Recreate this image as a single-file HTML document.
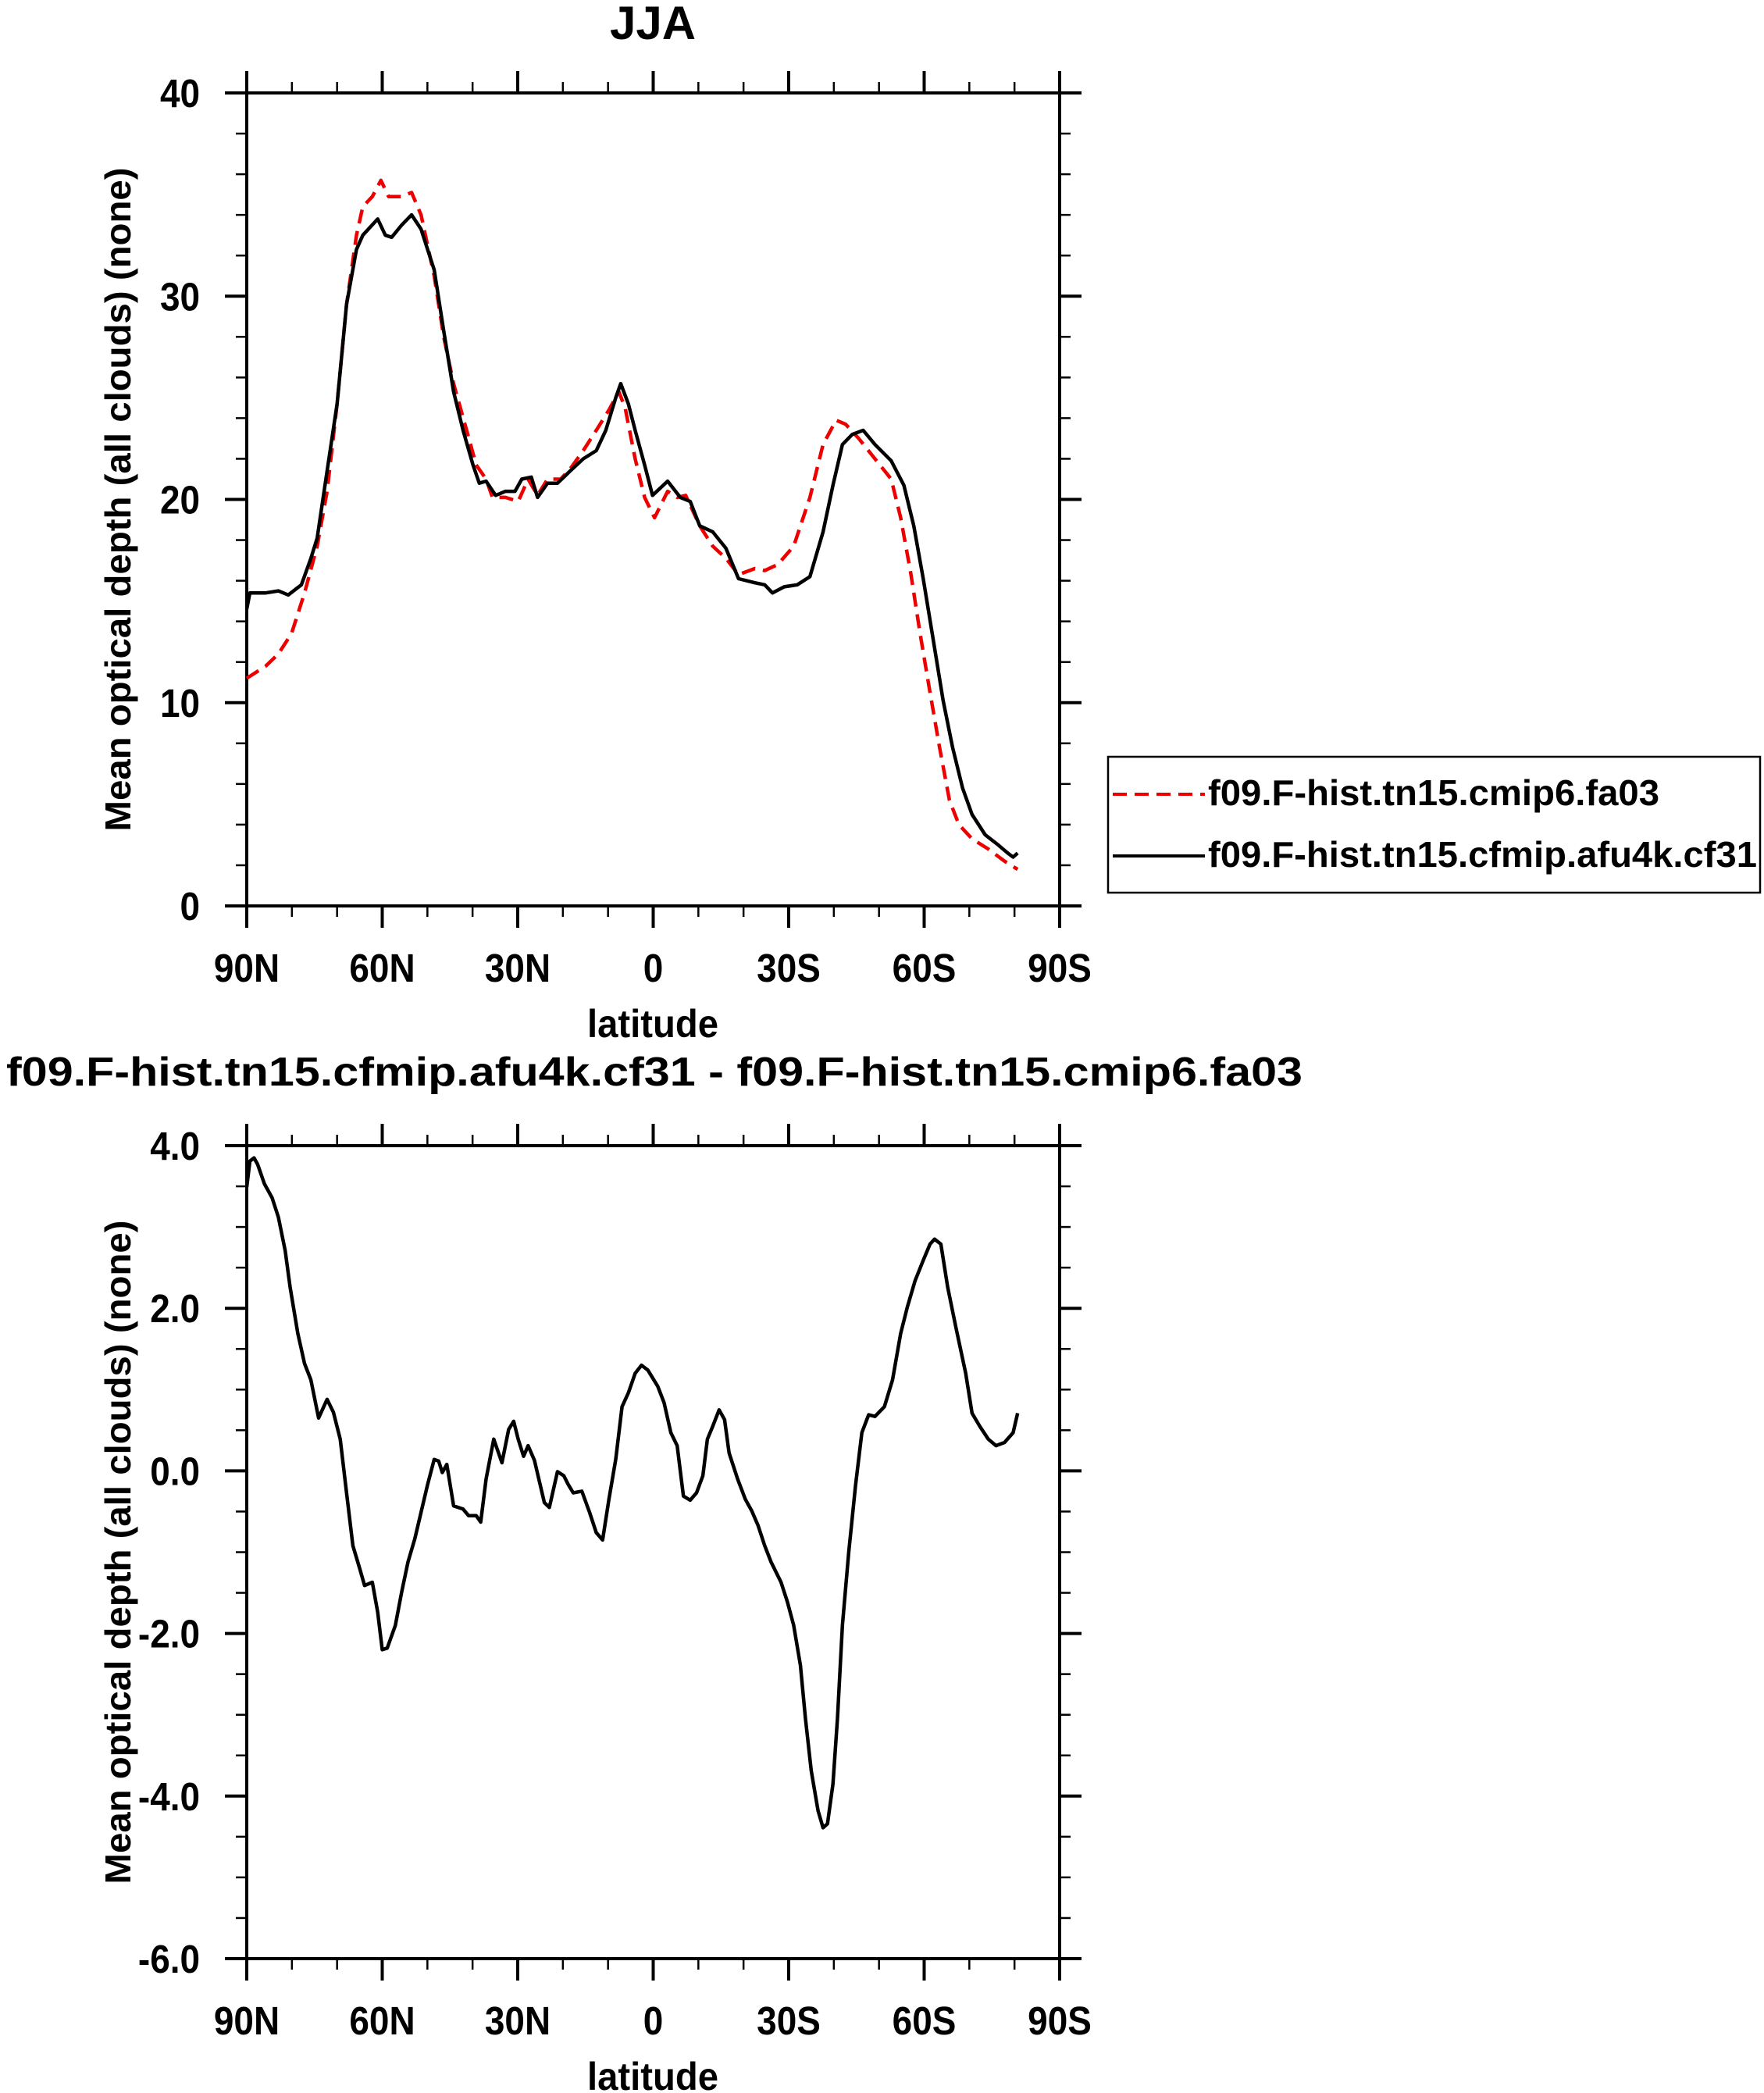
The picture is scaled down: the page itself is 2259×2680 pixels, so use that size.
<!DOCTYPE html>
<html><head><meta charset="utf-8"><style>
html,body{margin:0;padding:0;background:#fff;}
svg{display:block;font-family:"Liberation Sans",sans-serif;font-weight:bold;}
</style></head><body>
<svg id="chart" width="2259" height="2680" viewBox="0 0 2259 2680" xmlns="http://www.w3.org/2000/svg">
<text x="836" y="50" font-size="60" text-anchor="middle">JJA</text>
<text x="838" y="1390" font-size="52" text-anchor="middle" textLength="1660" lengthAdjust="spacingAndGlyphs">f09.F-hist.tn15.cfmip.afu4k.cf31 - f09.F-hist.tn15.cmip6.fa03</text>
<g id="top"></g>
<g id="bot"></g>
<g>
<rect x="1419" y="969" width="835" height="174" fill="none" stroke="#000" stroke-width="2.5"/>
<line x1="1425" y1="1017" x2="1543" y2="1017" stroke="#e00" stroke-width="4" stroke-dasharray="18,10"/>
<text x="1547" y="1031" font-size="46" textLength="578" lengthAdjust="spacingAndGlyphs">f09.F-hist.tn15.cmip6.fa03</text>
<line x1="1425" y1="1096" x2="1543" y2="1096" stroke="#000" stroke-width="4"/>
<text x="1547" y="1110" font-size="46" textLength="703" lengthAdjust="spacingAndGlyphs">f09.F-hist.tn15.cfmip.afu4k.cf31</text>
</g>
</svg>
<script>
const latTicks = [90,60,30,0,-30,-60,-90];
const latTickLabels = ["90N","60N","30N","0","30S","60S","90S"];
const topYTicks = [0,10,20,30,40];
const topYTickLabels = ["0","10","20","30","40"];
const botYTicks = [-6,-4,-2,0,2,4];
const botYTickLabels = ["-6.0","-4.0","-2.0","0.0","2.0","4.0"];

const blackLat = [90,89.3,85.8,83.0,80.8,77.9,75.8,74.4,72.2,70.0,67.9,65.7,64.3,61.0,59.3,57.9,55.7,53.5,51.4,48.5,46.4,44.2,42.1,39.9,38.5,37.0,34.9,32.7,30.6,29.1,27.0,25.6,23.4,21.2,18.4,15.5,12.6,10.5,8.3,7.2,5.5,4.0,1.9,0.15,-3.2,-6.0,-8.2,-10.3,-13.2,-16.1,-18.9,-22.5,-24.7,-26.4,-29.0,-31.9,-34.7,-37.6,-39.8,-41.9,-44.1,-46.5,-49.1,-52.7,-55.5,-57.7,-59.8,-62.0,-64.2,-66.3,-68.5,-70.6,-73.5,-76.4,-78.5,-79.7,-80.7];
const blackVal = [14.6,15.4,15.4,15.5,15.3,15.8,17.1,18.1,21.4,24.7,29.6,32.3,33.0,33.8,33.0,32.9,33.5,34.0,33.3,31.3,28.3,25.3,23.4,21.7,20.8,20.9,20.2,20.4,20.4,21.0,21.1,20.1,20.8,20.8,21.4,22.0,22.4,23.4,25.0,25.7,24.7,23.4,21.7,20.2,20.9,20.1,19.9,18.7,18.4,17.6,16.1,15.9,15.8,15.4,15.7,15.8,16.2,18.4,20.7,22.7,23.2,23.4,22.7,21.9,20.7,18.7,16.1,13.1,10.1,7.8,5.8,4.5,3.5,3.0,2.6,2.4,2.6];

const redLat = [90,85.8,83.0,80.1,77.2,74.4,72.2,70.0,67.9,65.7,64.3,62.2,60.3,58.6,55.7,53.5,51.4,48.5,46.4,44.2,41.3,39.2,37.0,35.6,32.7,29.9,27.7,25.6,23.4,20.5,18.4,15.5,12.6,9.8,7.6,6.2,4.0,1.9,-0.3,-3.2,-5.3,-7.2,-10.3,-13.2,-16.1,-18.9,-22.5,-24.7,-27.6,-31.1,-34.7,-37.6,-40.5,-42.6,-45.5,-49.1,-52.7,-54.8,-57.0,-59.1,-61.3,-63.4,-65.6,-67.7,-70.6,-74.2,-77.8,-80.7];
const redVal = [11.2,11.8,12.4,13.4,15.4,17.7,20.4,24.7,29.6,33.0,34.4,34.9,35.7,34.9,34.9,35.1,34.0,31.0,28.0,25.7,23.4,21.7,21.0,20.1,20.1,19.9,21.0,20.2,21.0,21.0,21.5,22.4,23.4,24.4,25.3,24.5,22.0,20.1,19.1,20.4,20.1,20.2,18.7,17.7,17.1,16.3,16.6,16.5,16.8,17.7,20.1,22.7,23.9,23.7,23.0,22.0,21.0,19.1,16.4,13.4,10.5,7.8,5.2,4.0,3.3,2.8,2.2,1.8];

const diffLat = [90,89.3,88.4,87.6,86.1,84.4,83.0,81.5,80.4,78.7,77.2,75.8,74.1,72.2,70.8,69.3,67.9,66.5,65.0,63.9,62.2,61.0,60.0,58.9,57.1,55.7,54.3,52.8,51.4,50.0,48.5,47.5,46.7,45.7,44.2,42.1,40.9,39.2,38.2,37.0,35.3,33.5,32.0,30.9,29.9,28.7,27.7,26.3,24.1,23.0,21.2,19.8,18.8,17.7,15.8,14.1,12.6,11.2,9.8,8.3,6.9,5.5,4.0,2.6,1.2,-1.0,-2.4,-3.9,-5.3,-6.7,-8.2,-9.6,-11.0,-12.0,-13.2,-14.6,-15.8,-16.8,-18.7,-20.4,-21.8,-23.2,-24.7,-26.1,-28.3,-29.7,-31.1,-32.6,-33.7,-35.0,-36.5,-37.6,-38.6,-39.8,-40.8,-41.9,-43.3,-44.8,-46.2,-47.7,-49.1,-51.2,-53.0,-54.8,-56.3,-58.0,-59.8,-61.3,-62.3,-63.7,-65.2,-67.0,-69.2,-70.6,-72.3,-74.2,-75.9,-77.8,-79.7,-80.7];
const diffVal = [3.49,3.81,3.85,3.77,3.53,3.36,3.12,2.71,2.26,1.69,1.32,1.12,0.65,0.88,0.72,0.39,-0.27,-0.92,-1.20,-1.41,-1.37,-1.74,-2.20,-2.18,-1.90,-1.49,-1.12,-0.84,-0.51,-0.18,0.14,0.12,-0.02,0.08,-0.43,-0.47,-0.55,-0.55,-0.63,-0.10,0.39,0.10,0.51,0.61,0.39,0.18,0.31,0.13,-0.39,-0.45,-0.01,-0.06,-0.17,-0.27,-0.25,-0.51,-0.76,-0.85,-0.35,0.14,0.79,0.96,1.20,1.30,1.24,1.04,0.84,0.47,0.31,-0.31,-0.36,-0.27,-0.06,0.39,0.55,0.75,0.63,0.22,-0.10,-0.35,-0.49,-0.67,-0.92,-1.12,-1.37,-1.61,-1.90,-2.39,-3.04,-3.69,-4.18,-4.39,-4.34,-3.85,-3.04,-1.90,-1.00,-0.18,0.47,0.69,0.67,0.79,1.12,1.69,2.02,2.34,2.59,2.79,2.85,2.79,2.26,1.77,1.20,0.71,0.55,0.39,0.31,0.35,0.47,0.71];

const NS = "http://www.w3.org/2000/svg";
const X0 = 316, X1 = 1357, W = X1 - X0;
function xScale(lat){ return X0 + (90 - lat) * W / 180; }

function mk(tag, parent){ const e = document.createElementNS(NS, tag); parent.appendChild(e); return e; }

function drawPanel(g, top, ymin, ymax, yTicks, yLabels, minorStep, series){
  const H = 1041, bottom = top + H;
  const yScale = v => bottom - (v - ymin) * H / (ymax - ymin);
  const fr = mk('rect', g);
  fr.setAttribute('x', X0); fr.setAttribute('y', top); fr.setAttribute('width', W); fr.setAttribute('height', H);
  fr.setAttribute('fill', 'none'); fr.setAttribute('stroke', '#000'); fr.setAttribute('stroke-width', '4');
  
  
  for (let lat = 90; lat >= -90; lat -= 10) {
    const major = (lat % 30 === 0);
    const len = major ? 28 : 14;
    const x = xScale(lat);
    [[bottom, bottom + len], [top, top - len]].forEach(p => {
      const t = mk('line', g);
      t.setAttribute('x1', x); t.setAttribute('x2', x); t.setAttribute('y1', p[0]); t.setAttribute('y2', p[1]);
      t.setAttribute('stroke', '#000'); t.setAttribute('stroke-width', major ? 4 : 2.5);
      
      
    });
  }
  latTicks.forEach((lat, i) => {
    const t = mk('text', g);
    t.setAttribute('transform', 'translate(' + xScale(lat) + ',' + (bottom + 97) + ') scale(0.9,1)');
    t.setAttribute('font-size', '51'); t.setAttribute('text-anchor', 'middle');
    t.textContent = latTickLabels[i];
    
    
  });
  const nMin = Math.round((ymax - ymin) / minorStep);
  for (let k = 0; k <= nMin; k++) {
    const v = ymin + k * minorStep;
    const major = yTicks.some(t => Math.abs(t - v) < 1e-6);
    const len = major ? 28 : 14;
    const y = yScale(v);
    [[X0, X0 - len], [X1, X1 + len]].forEach(p => {
      const t = mk('line', g);
      t.setAttribute('x1', p[0]); t.setAttribute('x2', p[1]); t.setAttribute('y1', y); t.setAttribute('y2', y);
      t.setAttribute('stroke', '#000'); t.setAttribute('stroke-width', major ? 4 : 2.5);
      
      
    });
  }
  yTicks.forEach((v, i) => {
    const t = mk('text', g);
    t.setAttribute('transform', 'translate(256,' + (yScale(v) + 18) + ') scale(0.9,1)');
    t.setAttribute('font-size', '51'); t.setAttribute('text-anchor', 'end');
    t.textContent = yLabels[i];
    
    
  });
  const xt = mk('text', g);
  xt.setAttribute('x', 836); xt.setAttribute('y', bottom + 168);
  xt.setAttribute('font-size', '50'); xt.setAttribute('text-anchor', 'middle');
  xt.setAttribute('textLength', '168'); xt.setAttribute('lengthAdjust', 'spacingAndGlyphs');
  xt.textContent = 'latitude';
  
  
  const yt = mk('text', g);
  const cy = top + H / 2;
  yt.setAttribute('transform', 'translate(167,' + cy + ') rotate(-90)');
  yt.setAttribute('font-size', '46'); yt.setAttribute('text-anchor', 'middle');
  yt.setAttribute('textLength', '850'); yt.setAttribute('lengthAdjust', 'spacingAndGlyphs');
  yt.textContent = 'Mean optical depth (all clouds) (none)';
  
  
  series.forEach(s => {
    const p = mk('path', g);
    let d = '';
    s.lat.forEach((la, i) => { d += (i ? 'L' : 'M') + xScale(la).toFixed(1) + ',' + yScale(s.val[i]).toFixed(1); });
    p.setAttribute('d', d);
    p.setAttribute('fill', 'none'); p.setAttribute('stroke', s.color); p.setAttribute('stroke-width', '4.5');
    p.setAttribute('stroke-linejoin', 'round');
    if (s.dash) p.setAttribute('stroke-dasharray', s.dash);
    
    
  });
}

drawPanel(document.getElementById('top'), 119, 0, 40, topYTicks, topYTickLabels, 2, [
  {lat: redLat, val: redVal, color: '#e00', dash: '18,10', name: 'series-cmip6-fa03'},
  {lat: blackLat, val: blackVal, color: '#000', dash: null, name: 'series-cfmip-afu4k-cf31'}
]);
drawPanel(document.getElementById('bot'), 1467, -6, 4, botYTicks, botYTickLabels, 0.5, [
  {lat: diffLat, val: diffVal, color: '#000', dash: null, name: 'series-difference'}
]);
</script>
</body></html>
